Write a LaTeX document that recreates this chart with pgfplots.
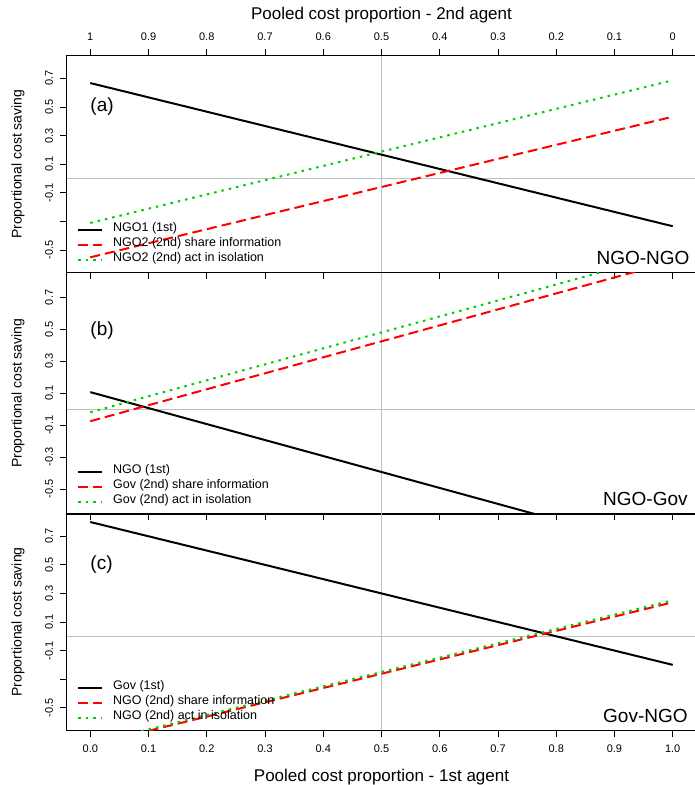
\documentclass[border=0pt]{standalone}
\usepackage{fontspec}
\setmainfont{Liberation Sans}
\usepackage{pgfplots}
\pgfplotsset{compat=1.18}

\definecolor{rgreen}{RGB}{0,205,0}
\definecolor{rgray}{RGB}{190,190,190}

\tikzset{tag/.style={font=\fontsize{19}{19}\selectfont, inner sep=0pt}}

\pgfplotsset{
  panel/.style={
    scale only axis, width=629pt,
    xmin=-0.04, xmax=1.04, ymin=-0.656, ymax=0.856,
    axis line style={line width=1pt},
    tick style={black, line width=0.8pt},
    tick align=outside, major tick length=6.5pt,
    xtick={0,0.1,0.2,0.3,0.4,0.5,0.6,0.7,0.8,0.9,1},
    ytick={-0.5,-0.3,-0.1,0.1,0.3,0.5,0.7},
    ytick pos=left,
    yticklabel style={xshift=-4pt, rotate=90, anchor=south, font=\fontsize{11}{11}\selectfont},
    xticklabel style={font=\fontsize{11}{11}\selectfont},
    ylabel={Proportional cost saving},
    every axis y label/.style={at={(axis description cs:-0.078,0.5)}, rotate=90,
      anchor=center, font=\fontsize{14}{14}\selectfont},
    legend cell align=left,
    legend image code/.code={\draw[##1] (0pt,0pt) -- (24pt,0pt);},
    legend style={at={(axis description cs:0,0)}, anchor=south west,
      xshift=10pt, yshift=4.5pt, draw=none, fill=none, inner sep=0pt,
      font=\fontsize{12.5}{15}\selectfont, row sep=0pt,
      nodes={inner sep=0pt, text height=9pt, text depth=6pt},
      /tikz/every odd column/.append style={column sep=10pt}},
  },
  l1/.style={black, line width=2pt},
  l2/.style={red, line width=2pt, dash pattern=on 10pt off 5pt},
  l3/.style={rgreen, line width=2pt, dash pattern=on 2.5pt off 5pt},
  ref/.style={rgray, line width=1pt, forget plot},
}

\begin{document}
\begin{tikzpicture}
\path[use as bounding box] (0pt,0pt) rectangle (694pt,785pt);

% (a) NGO-NGO
\begin{axis}[panel, at={(67pt,512.5pt)}, height=216.5pt,
  xtick pos=both, xticklabel pos=upper,
  xticklabel style={yshift=5pt},
  xticklabels={1,0.9,0.8,0.7,0.6,0.5,0.4,0.3,0.2,0.1,0},
  yticklabels={-0.5,{},-0.1,0.1,0.3,0.5,0.7},
  title={Pooled cost proportion - 2nd agent},
  title style={at={(axis description cs:0.5,1)}, anchor=center, yshift=35pt,
    font=\fontsize{17}{17}\selectfont}]
\addplot[ref] coordinates {(-0.04,0) (1.04,0)};
\addplot[ref] coordinates {(0.5,-0.656) (0.5,0.856)};
\addplot[l1] coordinates {(0,0.667) (1,-0.333)};
\addlegendentry{NGO1 (1st)}
\addplot[l2] coordinates {(0,-0.55) (1,0.432)};
\addlegendentry{NGO2 (2nd) share information}
\addplot[l3] coordinates {(0,-0.31) (1,0.686)};
\addlegendentry{NGO2 (2nd) act in isolation}
\node[tag, anchor=west] at (axis cs:0,0.5) {(a)};
\node[tag, anchor=base east] at (axis description cs:0.99,0.035) {NGO-NGO};
\end{axis}

% (b) NGO-Gov
\begin{axis}[panel, at={(67pt,271pt)}, height=241.5pt,
  xtick pos=lower, xticklabel=\empty,
  yticklabels={-0.5,-0.3,-0.1,0.1,0.3,0.5,0.7}]
\addplot[ref] coordinates {(-0.04,0) (1.04,0)};
\addplot[ref] coordinates {(0.5,-0.656) (0.5,0.856)};
\addplot[l1] coordinates {(0,0.107) (1,-0.893)};
\addlegendentry{NGO (1st)}
\addplot[l2] coordinates {(0,-0.075) (1,0.925)};
\addlegendentry{Gov (2nd) share information}
\addplot[l3] coordinates {(0,-0.019) (1,0.981)};
\addlegendentry{Gov (2nd) act in isolation}
\node[tag, anchor=west] at (axis cs:0,0.49) {(b)};
\node[tag, anchor=base east] at (axis description cs:0.987,0.037) {NGO-Gov};
\end{axis}

% (c) Gov-NGO
\begin{axis}[panel, at={(67pt,55pt)}, height=216pt,
  xtick pos=lower,
  xticklabel style={yshift=-5pt},
  xticklabels={0.0,0.1,0.2,0.3,0.4,0.5,0.6,0.7,0.8,0.9,1.0},
  yticklabels={-0.5,{},-0.1,0.1,0.3,0.5,0.7},
  xlabel={Pooled cost proportion - 1st agent},
  xlabel style={at={(axis description cs:0.5,0)}, anchor=center, yshift=-47pt,
    font=\fontsize{17}{17}\selectfont}]
\addplot[ref] coordinates {(-0.04,0) (1.04,0)};
\addplot[ref] coordinates {(0.5,-0.656) (0.5,0.856)};
\addplot[l1] coordinates {(0,0.80) (1,-0.20)};
\addlegendentry{Gov (1st)}
\addplot[l2] coordinates {(0,-0.762) (1,0.238)};
\addlegendentry{NGO (2nd) share information}
\addplot[l3] coordinates {(0,-0.752) (1,0.252)};
\addlegendentry{NGO (2nd) act in isolation}
\node[tag, anchor=west] at (axis cs:0,0.5) {(c)};
\node[tag, anchor=base east] at (axis description cs:0.987,0.037) {Gov-NGO};
\end{axis}
\end{tikzpicture}
\end{document}
